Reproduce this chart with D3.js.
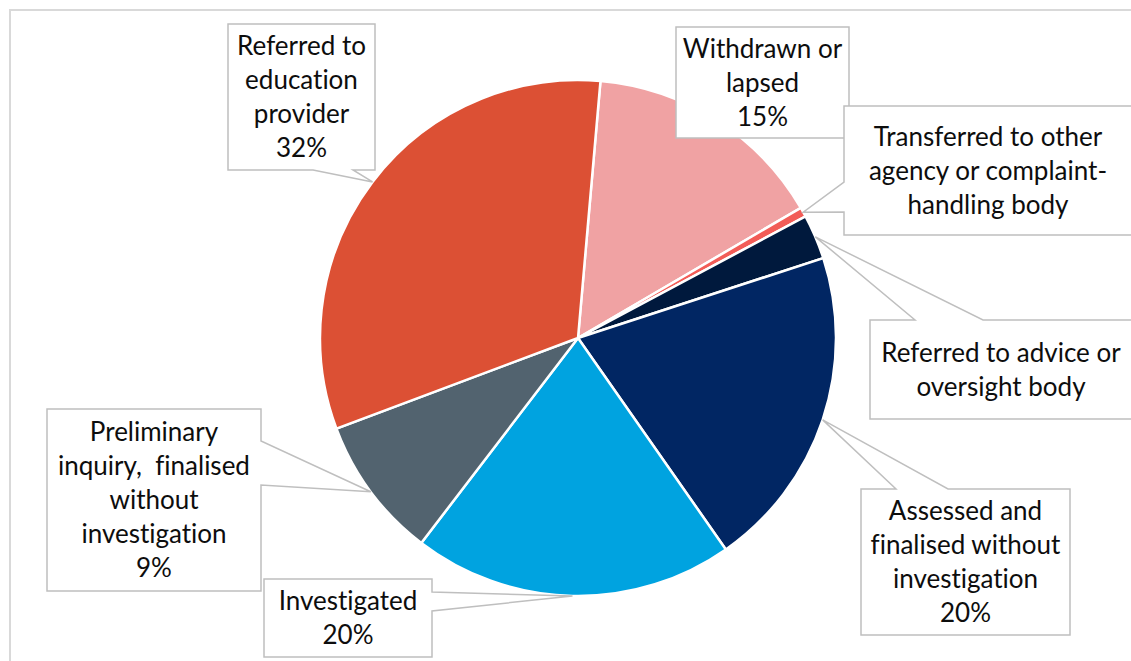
<!DOCTYPE html>
<html>
<head>
<meta charset="utf-8">
<script src="https://cdn.jsdelivr.net/npm/d3@7"></script>
<style>
  html, body { margin: 0; padding: 0; background: #fff; }
  svg { display: block; }
  text { font-family: Lato, "Open Sans", sans-serif; fill: #0d0d0d;
         font-variant-ligatures: none; font-feature-settings: "liga" 0, "dlig" 0; }
</style>
</head>
<body>
<svg id="chart" width="1131" height="661"></svg>
<script>
// outcome categories, clockwise from the top
var categories = [
  "Withdrawn or lapsed",
  "Transferred to other agency or complaint-handling body",
  "Referred to advice or oversight body",
  "Assessed and finalised without investigation",
  "Investigated",
  "Preliminary inquiry, finalised without investigation",
  "Referred to education provider"
];
// share of matters, percent
var shares = [15.2, 0.6, 2.8, 20.3, 20.1, 8.9, 32.1];
// label text as it wraps in the callouts
var labelLines = [
  ["Withdrawn or", "lapsed"],
  ["Transferred to other", "agency or complaint-", "handling body"],
  ["Referred to advice or", "oversight body"],
  ["Assessed and", "finalised without", "investigation"],
  ["Investigated"],
  ["Preliminary", "inquiry,  finalised", "without", "investigation"],
  ["Referred to", "education", "provider"]
];
var showPercent = [true, false, false, true, true, true, true];

var colors = ["#f0a2a3", "#f25c57", "#00193d", "#012663", "#00a3e0", "#52636f", "#dc5034"];

// callout boxes: [x0, y0, x1, y1], side the pointer leaves from, pointer base
var callouts = [
  { box: [676, 27, 849, 138], side: null },
  { box: [844, 106, 1140, 235], side: "left", a: 182, b: 212 },
  { box: [870, 320, 1140, 419], side: "top", a: 915, b: 983 },
  { box: [861, 489, 1070, 635], side: "top", a: 896, b: 948 },
  { box: [264, 579, 432, 657], side: "right", a: 592, b: 611 },
  { box: [47, 409, 261, 591], side: "right", a: 441, b: 485 },
  { box: [228, 24, 375, 170], side: "bottom", a: 313, b: 353 }
];

var cx = 578, cy = 338, radius = 258;
var start = 5 * Math.PI / 180;

var svg = d3.select("#chart");

// chart frame
svg.append("rect")
  .attr("x", 10).attr("y", 10)
  .attr("width", 1140).attr("height", 680)
  .attr("fill", "none")
  .attr("stroke", "#d9d9d9")
  .attr("stroke-width", 2);

var pie = d3.pie().sort(null).value(function(d) { return d; })
  .startAngle(start).endAngle(start + 2 * Math.PI);
var arcs = pie(shares);

var arc = d3.arc().innerRadius(0).outerRadius(radius);

var g = svg.append("g").attr("transform", "translate(" + cx + "," + cy + ")");

g.selectAll("path.slice").data(arcs).enter().append("path")
  .attr("class", "slice")
  .attr("d", arc)
  .attr("fill", function(d, i) { return colors[i]; })
  .attr("stroke", "#fff")
  .attr("stroke-width", 2.5);

var pct = function(v) { return d3.format(".0f")(v) + "%"; };

function calloutPath(c, v) {
  var x0 = c.box[0], y0 = c.box[1], x1 = c.box[2], y1 = c.box[3];
  var p = d3.path();
  p.moveTo(x0, y0);
  if (c.side === "top") { p.lineTo(c.a, y0); p.lineTo(v[0], v[1]); p.lineTo(c.b, y0); }
  p.lineTo(x1, y0);
  if (c.side === "right") { p.lineTo(x1, c.a); p.lineTo(v[0], v[1]); p.lineTo(x1, c.b); }
  p.lineTo(x1, y1);
  if (c.side === "bottom") { p.lineTo(c.b, y1); p.lineTo(v[0], v[1]); p.lineTo(c.a, y1); }
  p.lineTo(x0, y1);
  if (c.side === "left") { p.lineTo(x0, c.b); p.lineTo(v[0], v[1]); p.lineTo(x0, c.a); }
  p.closePath();
  return p.toString();
}

var labels = svg.append("g");

arcs.forEach(function(d, i) {
  var c = callouts[i];
  var mid = (d.startAngle + d.endAngle) / 2;
  var pt = d3.pointRadial(mid, radius);
  var v = [cx + pt[0], cy + pt[1]];

  labels.append("path")
    .attr("d", calloutPath(c, v))
    .attr("fill", "#fff")
    .attr("stroke", "#bfbfbf")
    .attr("stroke-width", 1.5);

  var lines = labelLines[i].slice();
  if (showPercent[i]) lines.push(pct(d.data));

  var bx = (c.box[0] + Math.min(c.box[2], 1131)) / 2;
  if (c.box[2] > 1131) bx = (c.box[0] + c.box[2]) / 2 - 4;
  var by = (c.box[1] + c.box[3]) / 2;
  var lh = 34;

  var t = labels.append("text")
    .attr("text-anchor", "middle")
    .attr("font-size", 26);
  lines.forEach(function(line, j) {
    t.append("tspan")
      .attr("x", bx)
      .attr("y", by + 9 + (j - (lines.length - 1) / 2) * lh)
      .style("white-space", "pre")
      .text(line);
  });
});
</script>
</body>
</html>
